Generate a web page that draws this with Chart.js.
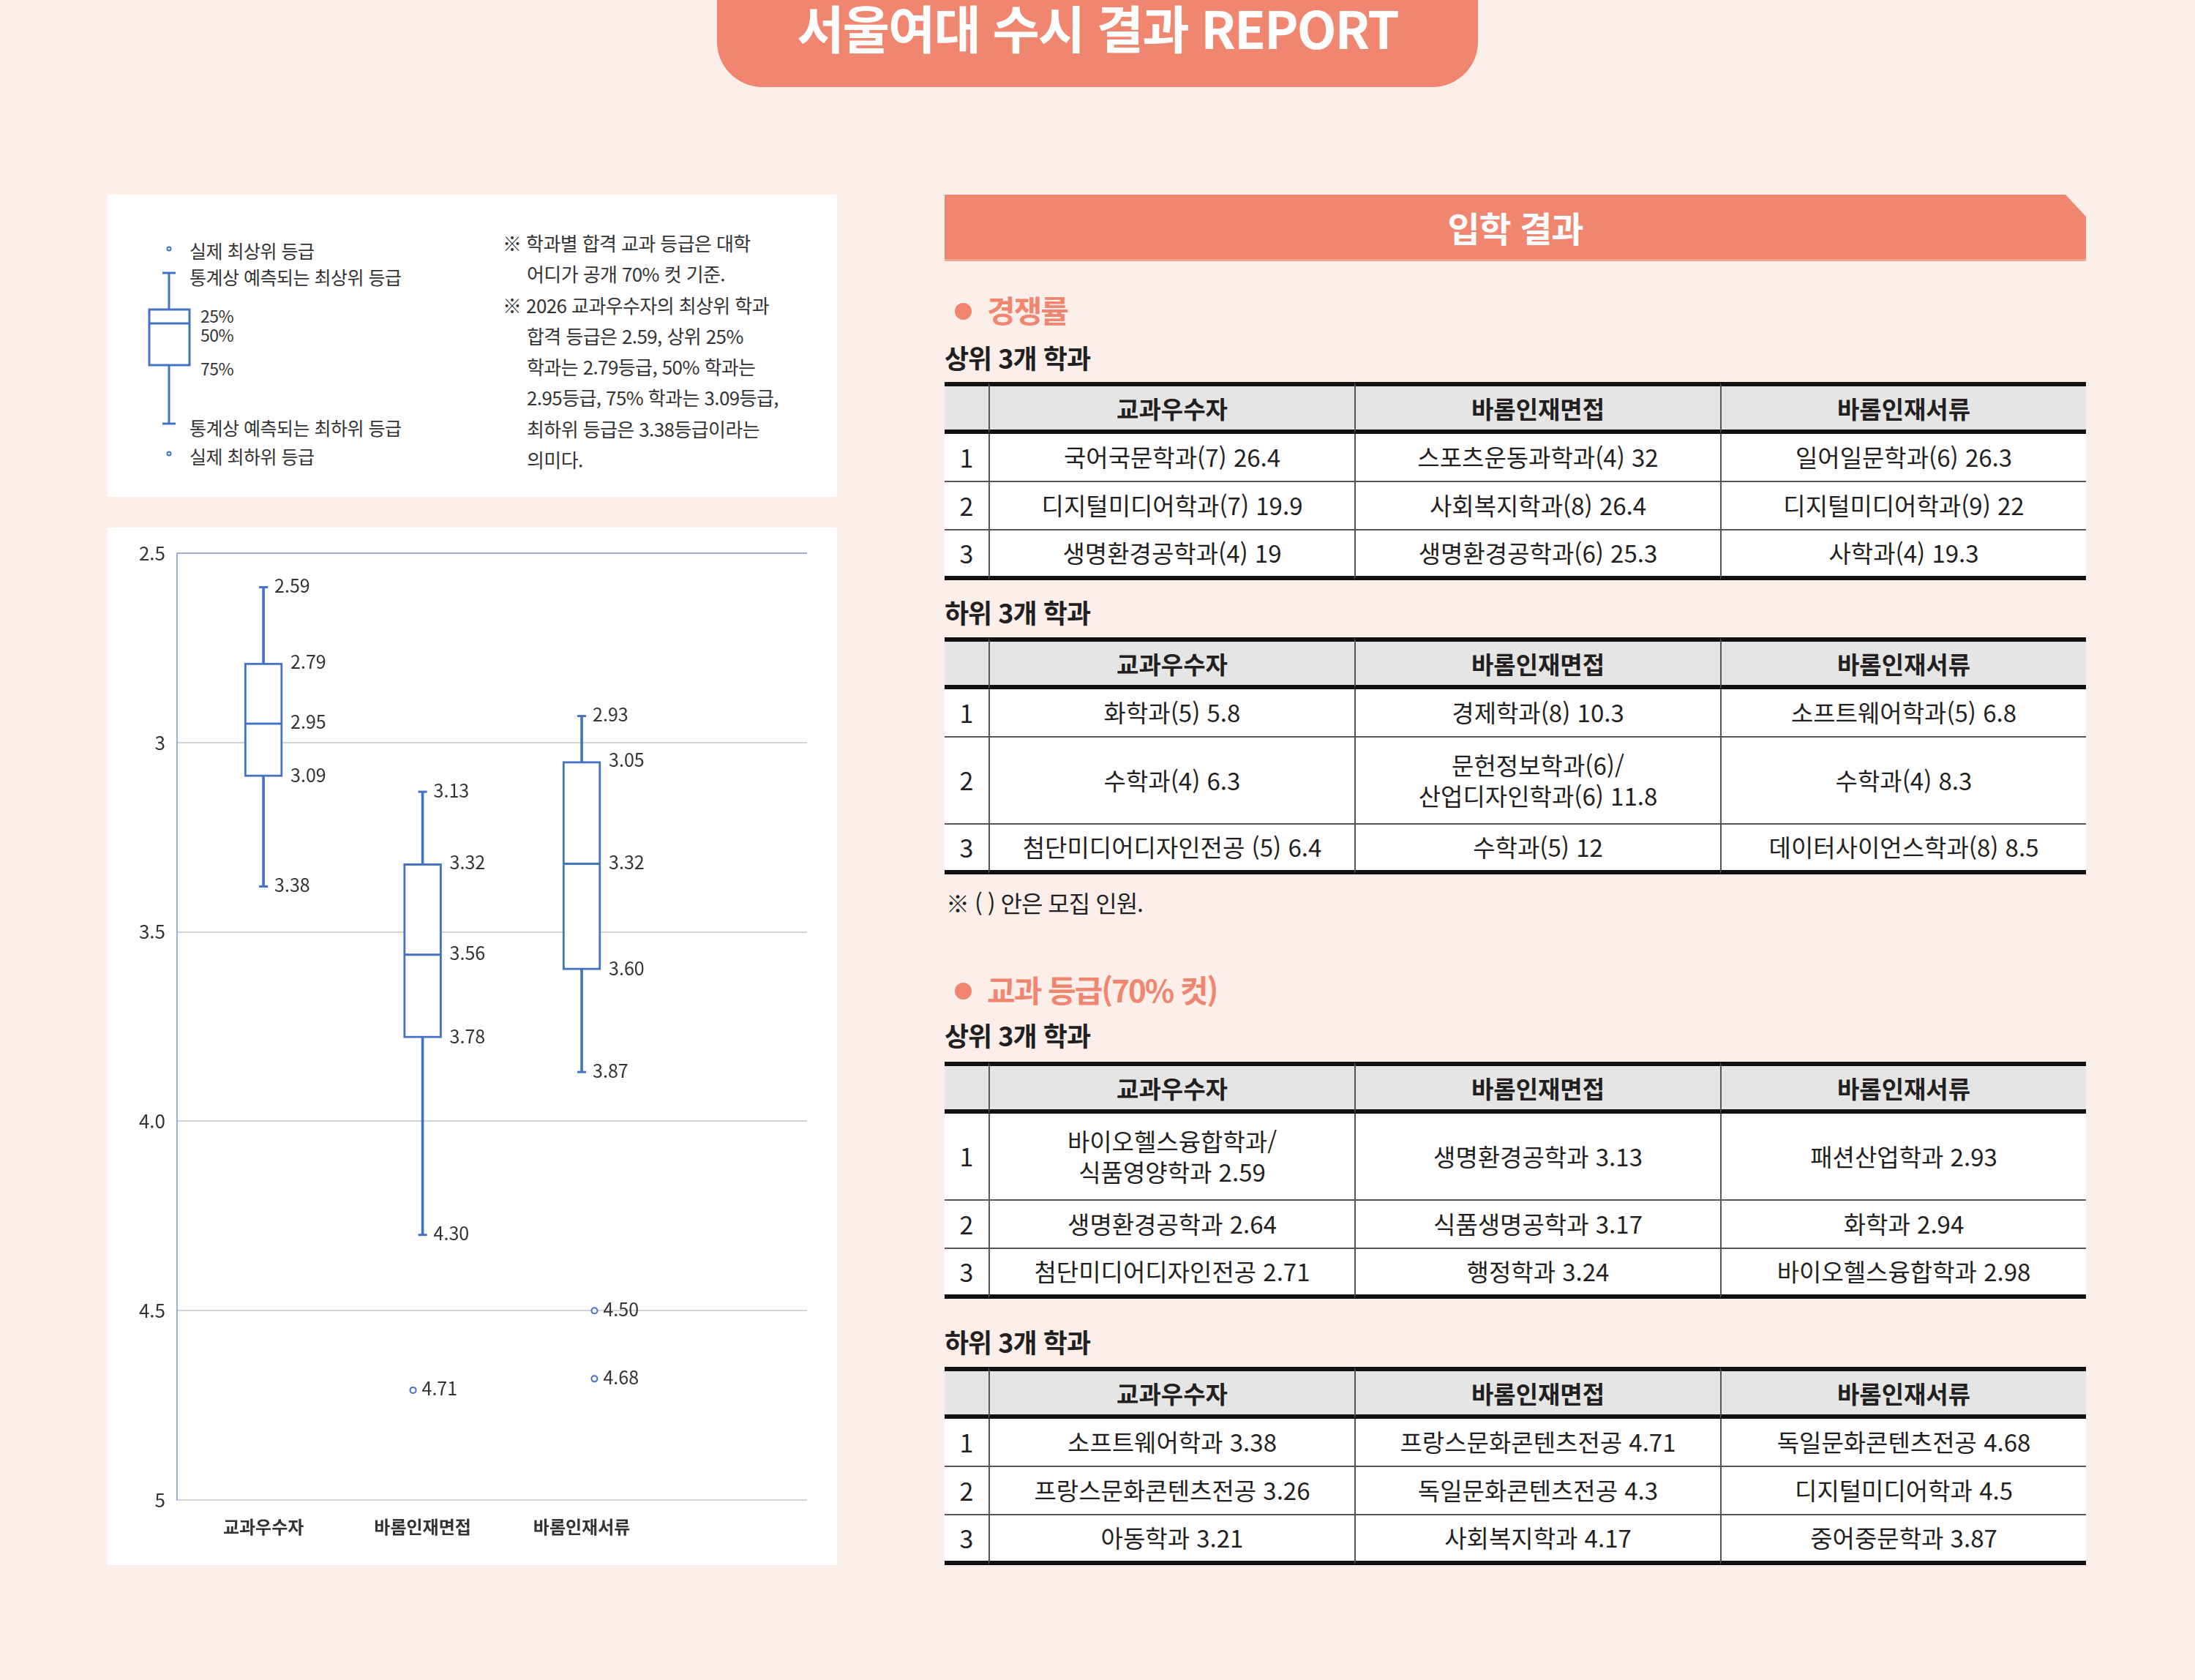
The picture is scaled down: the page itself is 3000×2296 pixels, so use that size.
<!DOCTYPE html>
<html lang="ko">
<head>
<meta charset="utf-8">
<script src="https://cdn.jsdelivr.net/npm/chart.js@4.4.1/dist/chart.umd.min.js"></script>
<style>
  html, body { margin: 0; padding: 0; }
  body {
    width: 3000px; height: 2296px; position: relative; overflow: hidden;
    background: #fcefea; color: #231f20;
    font-family: "Noto Sans CJK KR", "Noto Sans", sans-serif;
  }
  .abs { position: absolute; }
  #tab {
    left: 980px; top: 0; width: 1040px; height: 119px; background: #f0866f;
    border-radius: 0 0 62px 62px; color: #fff; font-weight: 700;
    font-size: 70px; letter-spacing: -2px; text-align: center; line-height: 74px;
  }
  .card { background: #fff; }
  #legendCard { left: 147px; top: 266px; width: 997px; height: 413px; }
  #chartCard { left: 147px; top: 721px; width: 997px; height: 1418px; }
  .lg { position: absolute; font-size: 25px; letter-spacing: -0.5px; color: #333; line-height: 30px; white-space: nowrap; }
  #notes {
    position: absolute; left: 540px; top: 45px; font-size: 26px; line-height: 42.3px;
    color: #333; letter-spacing: -0.6px; white-space: nowrap;
  }
  #notes .ind { padding-left: 33px; }
  #bar {
    left: 1291px; top: 266px; width: 1560px; height: 88px; background: #f0866f;
    border-bottom: 3px solid #f5a593;
    clip-path: polygon(0 0, 1532px 0, 1560px 30px, 1560px 100%, 0 100%);
    color: #fff; font-weight: 700; font-size: 48px; letter-spacing: -1px;
    text-align: center; line-height: 88px;
  }
  .sec { position: absolute; left: 1305px; font-size: 42px; font-weight: 700; color: #f0866f; letter-spacing: -2px; line-height: 50px; white-space: nowrap; }
  .sec::before { content: ""; display: inline-block; width: 23px; height: 23px; border-radius: 50%; background: #f0866f; margin-right: 21px; vertical-align: 4px; }
  .sub { position: absolute; left: 1291px; font-size: 36px; font-weight: 700; letter-spacing: -1px; line-height: 44px; white-space: nowrap; }
  .note2 { position: absolute; left: 1293px; font-size: 32px; letter-spacing: -1px; line-height: 40px; white-space: nowrap; }
  table.res { position: absolute; left: 1291px; width: 1560px; border-collapse: separate; border-spacing: 0; table-layout: fixed; }
  table.res th, table.res td { padding: 0; text-align: center; vertical-align: middle; box-sizing: border-box; }
  table.res th { background: #e5e5e5; font-weight: 700; font-size: 33px; border-top: 6px solid #111; border-bottom: 6px solid #111; height: 71px; }
  table.res td { background: #fff; font-size: 33px; border-bottom: 2px solid #555; height: 66px; line-height: 1.25; }
  table.res tr:last-child td { border-bottom: 6px solid #111; height: 68px; }
  table.res td.tall { height: 119px; }
  table.res th + th, table.res td + td { border-left: 2px solid #555; }
  table.res td.n { font-size: 34px; }
  #chartWrap { position: absolute; left: 0; top: 0; width: 997px; height: 1418px; }
</style>
</head>
<body>

<div id="tab" class="abs">서울여대 수시 결과 REPORT</div>

<div id="legendCard" class="abs card">
  <svg class="abs" style="left:0;top:0" width="997" height="413">
    <g stroke="#4472c4" stroke-width="3" fill="none">
      <circle cx="84" cy="74" r="2.5" fill="#fff" stroke-width="2"/>
      <line x1="75" y1="107" x2="93" y2="107"/>
      <line x1="84" y1="107" x2="84" y2="157"/>
      <rect x="57" y="157" width="55" height="76" fill="#fff"/>
      <line x1="57" y1="176" x2="112" y2="176"/>
      <line x1="84" y1="233" x2="84" y2="313"/>
      <line x1="75" y1="313" x2="93" y2="313"/>
      <circle cx="84" cy="354" r="2.5" fill="#fff" stroke-width="2"/>
    </g>
  </svg>
  <div class="lg" style="left:112px;top:61px">실제 최상위 등급</div>
  <div class="lg" style="left:112px;top:97px">통계상 예측되는 최상위 등급</div>
  <div class="lg" style="left:127px;top:150px;font-size:23px">25%</div>
  <div class="lg" style="left:127px;top:176px;font-size:23px">50%</div>
  <div class="lg" style="left:127px;top:222px;font-size:23px">75%</div>
  <div class="lg" style="left:112px;top:303px">통계상 예측되는 최하위 등급</div>
  <div class="lg" style="left:112px;top:342px">실제 최하위 등급</div>
  <div id="notes">
    ※ 학과별 합격 교과 등급은 대학<br>
    <span class="ind">어디가 공개 70% 컷 기준.</span><br>
    ※ 2026 교과우수자의 최상위 학과<br>
    <span class="ind">합격 등급은 2.59, 상위 25%</span><br>
    <span class="ind">학과는 2.79등급, 50% 학과는</span><br>
    <span class="ind">2.95등급, 75% 학과는 3.09등급,</span><br>
    <span class="ind">최하위 등급은 3.38등급이라는</span><br>
    <span class="ind">의미다.</span>
  </div>
</div>

<div id="chartCard" class="abs card">
  <div id="chartWrap"><canvas id="boxChart"></canvas></div>
</div>

<div id="bar" class="abs">입학 결과</div>

<div class="sec" style="top:398px">경쟁률</div>
<div class="sub" style="top:466px">상위 3개 학과</div>
<table class="res" style="top:522px">
  <colgroup><col style="width:60px"><col style="width:500px"><col style="width:500px"><col style="width:500px"></colgroup>
  <tr><th></th><th>교과우수자</th><th>바롬인재면접</th><th>바롬인재서류</th></tr>
  <tr><td class="n">1</td><td>국어국문학과(7) 26.4</td><td>스포츠운동과학과(4) 32</td><td>일어일문학과(6) 26.3</td></tr>
  <tr><td class="n">2</td><td>디지털미디어학과(7) 19.9</td><td>사회복지학과(8) 26.4</td><td>디지털미디어학과(9) 22</td></tr>
  <tr><td class="n">3</td><td>생명환경공학과(4) 19</td><td>생명환경공학과(6) 25.3</td><td>사학과(4) 19.3</td></tr>
</table>

<div class="sub" style="top:814px">하위 3개 학과</div>
<table class="res" style="top:871px">
  <colgroup><col style="width:60px"><col style="width:500px"><col style="width:500px"><col style="width:500px"></colgroup>
  <tr><th></th><th>교과우수자</th><th>바롬인재면접</th><th>바롬인재서류</th></tr>
  <tr><td class="n">1</td><td>화학과(5) 5.8</td><td>경제학과(8) 10.3</td><td>소프트웨어학과(5) 6.8</td></tr>
  <tr><td class="n tall">2</td><td class="tall">수학과(4) 6.3</td><td class="tall">문헌정보학과(6)/<br>산업디자인학과(6) 11.8</td><td class="tall">수학과(4) 8.3</td></tr>
  <tr><td class="n">3</td><td>첨단미디어디자인전공 (5) 6.4</td><td>수학과(5) 12</td><td>데이터사이언스학과(8) 8.5</td></tr>
</table>
<div class="note2" style="top:1213px">※ ( ) 안은 모집 인원.</div>

<div class="sec" style="top:1327px">교과 등급(70% 컷)</div>
<div class="sub" style="top:1392px">상위 3개 학과</div>
<table class="res" style="top:1451px">
  <colgroup><col style="width:60px"><col style="width:500px"><col style="width:500px"><col style="width:500px"></colgroup>
  <tr><th></th><th>교과우수자</th><th>바롬인재면접</th><th>바롬인재서류</th></tr>
  <tr><td class="n tall">1</td><td class="tall">바이오헬스융합학과/<br>식품영양학과 2.59</td><td class="tall">생명환경공학과 3.13</td><td class="tall">패션산업학과 2.93</td></tr>
  <tr><td class="n">2</td><td>생명환경공학과 2.64</td><td>식품생명공학과 3.17</td><td>화학과 2.94</td></tr>
  <tr><td class="n">3</td><td>첨단미디어디자인전공 2.71</td><td>행정학과 3.24</td><td>바이오헬스융합학과 2.98</td></tr>
</table>

<div class="sub" style="top:1811px">하위 3개 학과</div>
<table class="res" style="top:1868px">
  <colgroup><col style="width:60px"><col style="width:500px"><col style="width:500px"><col style="width:500px"></colgroup>
  <tr><th></th><th>교과우수자</th><th>바롬인재면접</th><th>바롬인재서류</th></tr>
  <tr><td class="n">1</td><td>소프트웨어학과 3.38</td><td>프랑스문화콘텐츠전공 4.71</td><td>독일문화콘텐츠전공 4.68</td></tr>
  <tr><td class="n">2</td><td>프랑스문화콘텐츠전공 3.26</td><td>독일문화콘텐츠전공 4.3</td><td>디지털미디어학과 4.5</td></tr>
  <tr><td class="n">3</td><td>아동학과 3.21</td><td>사회복지학과 4.17</td><td>중어중문학과 3.87</td></tr>
</table>

<script>
// box plot values per admission type (grades, lower is better)
const categories = ['교과우수자', '바롬인재면접', '바롬인재서류'];
const minValues = [2.59, 3.13, 2.93];
const q1Values = [2.79, 3.32, 3.05];
const medianValues = [2.95, 3.56, 3.32];
const q3Values = [3.09, 3.78, 3.60];
const maxValues = [3.38, 4.30, 3.87];
const outlierCategory = [2, 3, 3];
const outlierValues = [4.71, 4.50, 4.68];
const yTickValues = [2.5, 3, 3.5, 4, 4.5, 5];
const yTickLabels = ['2.5', '3', '3.5', '4.0', '4.5', '5'];

const BLUE = '#4472c4';
const FONT = '"Noto Sans CJK KR", "Noto Sans", sans-serif';
const outlierShift = { 1: 0, 2: -0.06, 3: 0.08 };

const valueLabels = {
  id: 'valueLabels',
  afterDatasetsDraw(chart) {
    const { ctx, scales: { x, y } } = chart;
    ctx.save();
    ctx.font = '25px ' + FONT;
    ctx.fillStyle = '#333';
    ctx.textAlign = 'left';
    ctx.textBaseline = 'middle';
    const put = (txt, px, val) => ctx.fillText(txt, px, y.getPixelForValue(val) - 2);
    categories.forEach((c, i) => {
      const cx = x.getPixelForValue(i + 1);
      put(minValues[i].toFixed(2), cx + 15, minValues[i]);
      put(maxValues[i].toFixed(2), cx + 15, maxValues[i]);
      put(q1Values[i].toFixed(2), cx + 37, q1Values[i]);
      put(medianValues[i].toFixed(2), cx + 37, medianValues[i]);
      put(q3Values[i].toFixed(2), cx + 37, q3Values[i]);
    });
    outlierValues.forEach((v, i) => {
      const k = outlierCategory[i];
      put(v.toFixed(2), x.getPixelForValue(k + outlierShift[k]) + 12, v);
    });
    ctx.restore();
  }
};

new Chart(document.getElementById('boxChart'), {
  type: 'bar',
  data: {
    datasets: [
      {
        label: 'whisker',
        data: categories.map((c, i) => ({ x: i + 1, y: [minValues[i], maxValues[i]] })),
        backgroundColor: BLUE,
        barThickness: 3,
        grouped: false,
        order: 4
      },
      {
        label: 'box',
        data: categories.map((c, i) => ({ x: i + 1, y: [q1Values[i], q3Values[i]] })),
        backgroundColor: '#ffffff',
        borderColor: BLUE,
        borderWidth: 3,
        borderSkipped: false,
        barThickness: 52,
        grouped: false,
        order: 3
      },
      {
        type: 'scatter',
        label: 'median',
        data: categories.map((c, i) => ({ x: i + 1, y: medianValues[i] })),
        pointStyle: 'line',
        pointRadius: 25,
        borderColor: BLUE,
        borderWidth: 3,
        order: 2
      },
      {
        type: 'scatter',
        label: 'caps',
        data: categories.flatMap((c, i) => [{ x: i + 1, y: minValues[i] }, { x: i + 1, y: maxValues[i] }]),
        pointStyle: 'line',
        pointRadius: 6,
        borderColor: BLUE,
        borderWidth: 3,
        order: 2
      },
      {
        type: 'scatter',
        label: 'outliers',
        data: outlierValues.map((v, i) => ({ x: outlierCategory[i] + outlierShift[outlierCategory[i]], y: v })),
        pointStyle: 'circle',
        pointRadius: 4,
        backgroundColor: '#ffffff',
        borderColor: BLUE,
        borderWidth: 2,
        order: 1
      }
    ]
  },
  options: {
    responsive: true, maintainAspectRatio: false,
    animation: false, events: [],
    layout: { padding: { top: 35, right: 41, bottom: 29, left: 0 } },
    plugins: { legend: { display: false }, tooltip: { enabled: false } },
    scales: {
      x: {
        type: 'linear', min: 0.457, max: 4.416, offset: false,
        afterBuildTicks: s => { s.ticks = categories.map((c, i) => ({ value: i + 1 })); },
        afterFit: s => { s.height = 60; },
        grid: { display: false },
        border: { display: false },
        ticks: {
          autoSkip: false, maxRotation: 0, padding: 14, color: '#333',
          font: { family: FONT, size: 24, weight: 'bold' },
          callback: (v, i) => categories[i]
        }
      },
      y: {
        min: 2.5, max: 5, reverse: true,
        afterBuildTicks: s => { s.ticks = yTickValues.map(v => ({ value: v })); },
        afterFit: s => { s.width = 95; },
        grid: {
          drawTicks: false, lineWidth: 2,
          color: c => (c.tick && c.tick.value === 2.5) ? '#9db0dc' : '#d3d3d3'
        },
        border: { display: true, color: '#9db0dc', width: 2 },
        ticks: {
          padding: 16, color: '#333',
          font: { family: FONT, size: 26 },
          callback: (v, i) => yTickLabels[i]
        }
      }
    }
  },
  plugins: [valueLabels]
});
</script>
</body>
</html>
